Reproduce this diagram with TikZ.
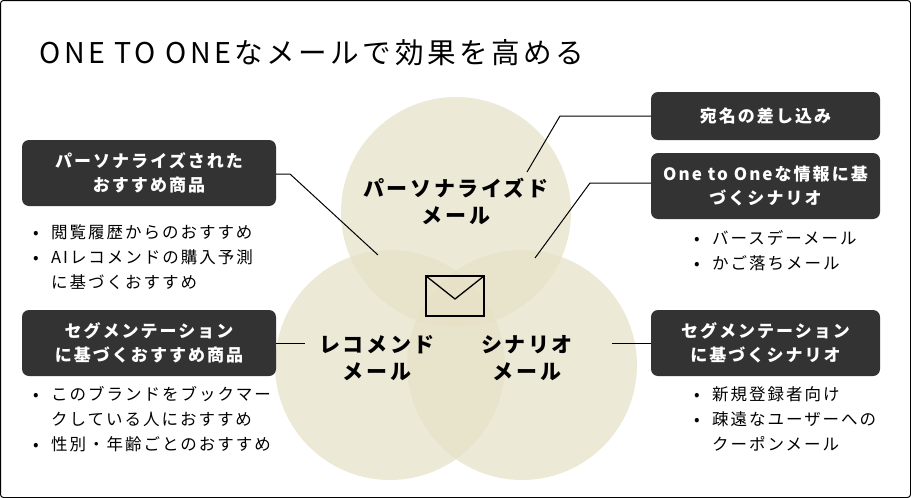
\documentclass[tikz,border=0pt]{standalone}
\usepackage{fontspec}
\setmainfont{Noto Sans CJK JP}[LetterSpace=12]
\usetikzlibrary{positioning}
\definecolor{boxgray}{HTML}{333333}
\definecolor{venn}{HTML}{E6E0C6}
\newcommand{\bul}{\makebox[18pt][l]{•}}
\newcommand{\nobul}{\makebox[18pt][l]{}}
\tikzset{
  labelbox/.style={shape=rectangle, rounded corners=7pt, fill=boxgray,
    text=white, font=\fontsize{17}{24}\selectfont\bfseries, align=center,
    minimum height=48pt, inner sep=0pt},
  vennlabel/.style={font=\fontsize{21}{27}\selectfont\bfseries, align=center},
  bullets/.style={anchor=north west, align=left, font=\fontsize{16.5}{25}\selectfont,
    inner sep=0pt},
  callout/.style={draw=black, line width=1pt},
}
\begin{document}
\begin{tikzpicture}[x=1pt,y=-1pt]
  \useasboundingbox (0,0) rectangle (911,498);
  \draw[line width=1pt, rounded corners=3pt] (0.5,0.5) rectangle (910.5,497.5);
  \node[anchor=west, font=\fontsize{28.6}{32}\selectfont] (title) at (36,53) {ONE TO ONEなメールで効果を高める};
  % venn circles
  \fill[venn, opacity=0.7] (456,212) circle (115);
  \fill[venn, opacity=0.7] (390,365) circle (115);
  \fill[venn, opacity=0.7] (522,365) circle (115);
  \node[vennlabel] (personal) at (456,201) {パーソナライズド\\メール};
  \node[vennlabel] (recommend) at (377,358) {レコメンド\\メール};
  \node[vennlabel] (scenario) at (527,358) {シナリオ\\メール};
  % envelope
  \draw[line width=1.3pt] (426,276) rectangle (484,316);
  \draw[line width=1.3pt] (426,276) -- (455,299) -- (484,276);
  % left boxes
  \node[labelbox, minimum width=254pt, minimum height=66pt] (pbox) at (149,173) {パーソナライズされた\\おすすめ商品};
  \node[bullets] (pnote) at (33,224) {\bul 閲覧履歴からのおすすめ\\\bul AIレコメンドの購入予測\\\nobul に基づくおすすめ};
  \node[labelbox, minimum width=254pt, minimum height=66pt] (sbox) at (149,343) {セグメンテーション\\に基づくおすすめ商品};
  \node[bullets] (snote) at (33,386) {\bul このブランドをブックマー\\\nobul クしている人におすすめ\\\bul 性別・年齢ごとのおすすめ};
  % right boxes
  \node[labelbox, minimum width=229pt] (abox) at (765.5,116) {宛名の差し込み};
  \node[labelbox, minimum width=229pt, minimum height=66pt] (obox) at (765.5,186) {One to Oneな情報に基\\づくシナリオ};
  \node[bullets] (onote) at (694,230) {\bul バースデーメール\\\bul かご落ちメール};
  \node[labelbox, minimum width=229pt, minimum height=66pt] (gbox) at (765.5,343) {セグメンテーション\\に基づくシナリオ};
  \node[bullets] (gnote) at (694,386) {\bul 新規登録者向け\\\bul 疎遠なユーザーへの\\\nobul クーポンメール};
  % callouts
  \coordinate (p1) at (378,255);
  \coordinate (s1) at (305,343);
  \coordinate (a1) at (527,172);
  \coordinate (o1) at (535,258);
  \coordinate (g1) at (612,343);
  \draw[callout] (pbox.east |- 0,174) -- (290,174) -- (p1);
  \draw[callout] (sbox.east) -- (s1);
  \draw[callout] (abox.west) -- (560,116) -- (a1);
  \draw[callout] (obox.west |- 0,183) -- (590,183) -- (o1);
  \draw[callout] (gbox.west) -- (g1);
\end{tikzpicture}
\end{document}
